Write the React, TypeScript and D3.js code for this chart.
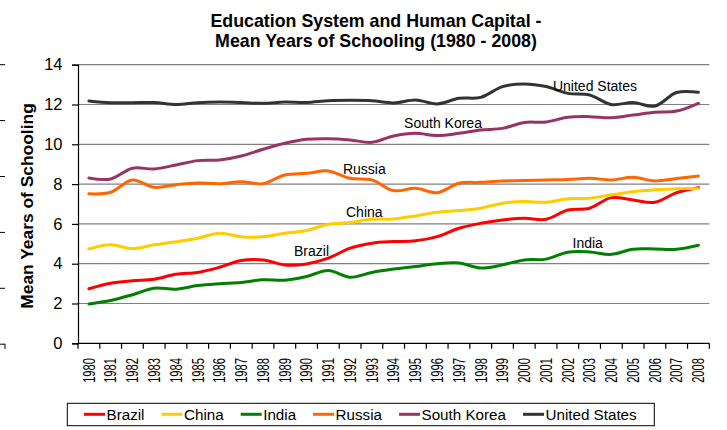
import React, { useEffect, useRef } from "react";
import * as d3 from "d3";

const years = ["1980","1981","1982","1983","1984","1985","1986","1987","1988","1989","1990","1991","1992","1993","1994","1995","1996","1997","1998","1999","2000","2001","2002","2003","2004","2005","2006","2007","2008"];
const yTicks = [0, 2, 4, 6, 8, 10, 12, 14];

const brazil = [2.74,3.02,3.14,3.22,3.47,3.56,3.82,4.16,4.19,3.94,3.99,4.28,4.78,5.03,5.11,5.15,5.36,5.78,6.03,6.2,6.28,6.23,6.7,6.79,7.32,7.2,7.09,7.57,7.82];
const china = [4.74,4.95,4.76,4.95,5.1,5.28,5.53,5.36,5.35,5.53,5.67,5.98,6.07,6.23,6.25,6.4,6.59,6.67,6.79,7.04,7.12,7.09,7.26,7.29,7.46,7.62,7.71,7.77,7.77];
const india = [1.98,2.15,2.44,2.77,2.72,2.9,2.99,3.05,3.19,3.17,3.36,3.66,3.32,3.56,3.73,3.86,4.0,4.03,3.78,3.94,4.19,4.23,4.58,4.59,4.47,4.73,4.74,4.73,4.93];
const russia = [7.51,7.59,8.21,7.84,7.97,8.06,8.02,8.12,8.02,8.46,8.54,8.66,8.29,8.21,7.67,7.79,7.57,8.04,8.09,8.16,8.18,8.21,8.23,8.29,8.21,8.34,8.16,8.28,8.41];
const southKorea = [8.31,8.26,8.8,8.76,8.96,9.18,9.21,9.41,9.75,10.05,10.25,10.28,10.22,10.1,10.42,10.55,10.44,10.55,10.72,10.8,11.1,11.12,11.36,11.39,11.34,11.47,11.61,11.67,12.06];
const unitedStates = [12.18,12.09,12.09,12.1,12.0,12.09,12.12,12.1,12.06,12.12,12.1,12.19,12.21,12.19,12.08,12.23,12.03,12.31,12.36,12.9,13.03,12.9,12.56,12.48,12.0,12.1,11.92,12.6,12.61];

const seriesNames = ["Brazil", "China", "India", "Russia", "South Korea", "United States"];
const seriesValues = [brazil, china, india, russia, southKorea, unitedStates];
const seriesColors = ["#FF0000", "#FFCC00", "#008000", "#FF6600", "#993366", "#333333"];

const FONT = "'Liberation Sans', Arial, sans-serif";

export default function App() {
  const ref = useRef<SVGSVGElement>(null);

  useEffect(() => {
    const svg = d3.select(ref.current);
    svg.selectAll("*").remove();

    const left = 78, right = 709.3, top = 64.7, bottom = 343.3;
    const x = d3.scaleBand<string>().domain(years).range([left, right]);
    const y = d3.scaleLinear().domain([0, 14]).range([bottom, top]);
    const cx = (yr: string) => (x(yr) as number) + x.bandwidth() / 2;

    // left edge artifacts (neighbouring chart cut off)
    const art = svg.append("g");
    d3.range(0, 6).forEach((k) => {
      const yy = 64.7 + k * 55.9;
      art.append("line").attr("x1", 0).attr("x2", 5).attr("y1", yy).attr("y2", yy).attr("stroke", "#000").attr("stroke-width", 1);
    });
    art.append("line").attr("x1", 5).attr("x2", 5).attr("y1", 343.8).attr("y2", 349).attr("stroke", "#000");

    // title
    const title = svg.append("text").attr("text-anchor", "middle").attr("font-family", FONT)
      .attr("font-weight", "bold").attr("font-size", 17.8).attr("fill", "#000");
    title.append("tspan").attr("x", 376).attr("y", 26.5).text("Education System and Human Capital -");
    title.append("tspan").attr("x", 376).attr("y", 46.5).text("Mean Years of Schooling (1980 - 2008)");

    // gridlines
    svg.append("g").selectAll("line").data(yTicks.filter((t) => t > 0)).join("line")
      .attr("x1", left).attr("x2", right)
      .attr("y1", (d) => y(d)).attr("y2", (d) => y(d))
      .attr("stroke", "#808080").attr("stroke-width", 1.2);

    // y axis
    const yAxis = svg.append("g").attr("transform", `translate(${left},0)`)
      .call(d3.axisLeft(y).tickValues(yTicks).tickSize(6).tickPadding(9.5).tickFormat(d3.format("d")));
    yAxis.select(".domain").attr("stroke", "#000").attr("stroke-width", 1.2);
    yAxis.selectAll(".tick line").attr("stroke", "#000").attr("stroke-width", 1.2);
    yAxis.selectAll(".tick text").attr("font-family", FONT).attr("font-size", 16.5).attr("fill", "#000");

    // y label
    svg.append("text").attr("transform", `translate(33,206) rotate(-90)`)
      .attr("text-anchor", "middle").attr("font-family", FONT).attr("font-weight", "bold")
      .attr("font-size", 17.4).attr("fill", "#000").text("Mean Years of Schooling");

    // x axis
    svg.append("line").attr("x1", left).attr("x2", right).attr("y1", bottom).attr("y2", bottom)
      .attr("stroke", "#000").attr("stroke-width", 1.2);
    const boundaries = years.map((yr) => x(yr) as number).concat([right]);
    svg.append("g").selectAll("line").data(boundaries).join("line")
      .attr("x1", (d) => d).attr("x2", (d) => d).attr("y1", bottom).attr("y2", bottom + 5.5)
      .attr("stroke", "#000").attr("stroke-width", 1.2);
    svg.append("g").selectAll("text").data(years).join("text")
      .attr("transform", (d) => `translate(${cx(d)},358) rotate(-90) scale(0.69,1)`)
      .attr("text-anchor", "end").attr("dominant-baseline", "central")
      .attr("font-family", FONT).attr("font-size", 16.2).attr("fill", "#000").text((d) => d);

    // lines
    const line = d3.line<number>()
      .x((_, i) => cx(years[i]))
      .y((d) => y(d))
      .curve(d3.curveCatmullRom.alpha(0.5));
    svg.append("g").selectAll("path").data(seriesValues).join("path")
      .attr("d", (d) => line(d))
      .attr("fill", "none")
      .attr("stroke", (_, i) => seriesColors[i])
      .attr("stroke-width", 3)
      .attr("stroke-linejoin", "round").attr("stroke-linecap", "round");

    // data labels
    const labelPos: [string, number, number][] = [
      ["Brazil", 311.5, 251],
      ["China", 364.3, 212.3],
      ["Russia", 364.3, 169.3],
      ["South Korea", 443, 123.3],
      ["United States", 595, 86],
      ["India", 587.7, 243.3],
    ];
    svg.append("g").selectAll("text").data(labelPos).join("text")
      .attr("x", (d) => d[1]).attr("y", (d) => d[2])
      .attr("text-anchor", "middle").attr("dominant-baseline", "central")
      .attr("font-family", FONT).attr("font-size", 14).attr("fill", "#000")
      .text((d) => d[0]);

    // legend
    const lg = svg.append("g");
    lg.append("rect").attr("x", 67.3).attr("y", 403.3).attr("width", 587).attr("height", 22.4)
      .attr("fill", "#fff").attr("stroke", "#000").attr("stroke-width", 1);
    let lx = 84;
    const ly = 414.3;
    seriesNames.forEach((name, i) => {
      lg.append("line").attr("x1", lx).attr("x2", lx + 21).attr("y1", ly).attr("y2", ly)
        .attr("stroke", seriesColors[i]).attr("stroke-width", 3);
      const t = lg.append("text").attr("x", lx + 22.5).attr("y", ly)
        .attr("dominant-baseline", "central").attr("font-family", FONT)
        .attr("font-size", 15.2).attr("fill", "#000").text(name);
      const w = (t.node() as SVGTextElement).getComputedTextLength();
      lx = lx + 22.5 + w + 17;
    });
  }, []);

  return (
    <svg ref={ref} width={727} height={430}
      style={{ position: "absolute", left: 0, top: 0, background: "#fff" }} />
  );
}
